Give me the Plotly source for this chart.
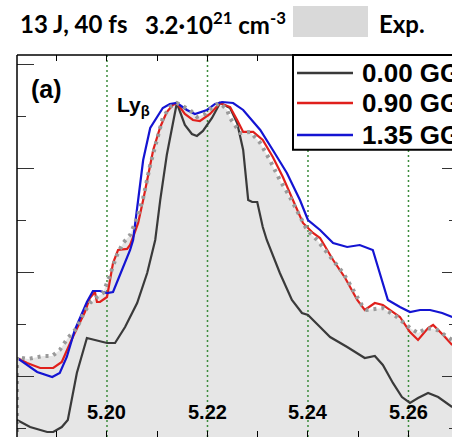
import plotly.graph_objects as go

# ---------------- data ----------------
grid_x = [5.20, 5.22, 5.24, 5.26]
grid_labels = ["5.20", "5.22", "5.24", "5.26"]

black_x = [5.1821, 5.1847, 5.1881, 5.1893, 5.1910, 5.1922, 5.1940, 5.1960, 5.1976, 5.2000,
           5.2016, 5.2036, 5.2060, 5.2080, 5.2096, 5.2106, 5.2119, 5.2129, 5.2139, 5.2155,
           5.2169, 5.2179, 5.2191, 5.2209, 5.2225, 5.2245, 5.2259, 5.2271, 5.2281, 5.2289,
           5.2299, 5.2310, 5.2318, 5.2344, 5.2368, 5.2388, 5.2400, 5.2424, 5.2444, 5.2478,
           5.2513, 5.2533, 5.2549, 5.2569, 5.2587, 5.2603, 5.2619, 5.2639, 5.2659, 5.2687]
black_y = [0.1173, 0.1038, 0.0942, 0.0942, 0.1038, 0.1173, 0.2077, 0.2750, 0.2712, 0.2654,
           0.2654, 0.2962, 0.3423, 0.4000, 0.4635, 0.5404, 0.6269, 0.6808, 0.7269, 0.6846,
           0.6673, 0.6635, 0.6731, 0.6981, 0.7269, 0.7173, 0.6885, 0.6365, 0.5404, 0.5365,
           0.5365, 0.4885, 0.4635, 0.4000, 0.3481, 0.3231, 0.3192, 0.2962, 0.2769, 0.2577,
           0.2365, 0.2404, 0.2231, 0.1885, 0.1615, 0.1500, 0.1596, 0.1692, 0.1615, 0.1423]

red_x = [5.1821, 5.1841, 5.1867, 5.1893, 5.1910, 5.1932, 5.1956, 5.1966, 5.1976, 5.1980,
         5.1986, 5.2000, 5.2012, 5.2022, 5.2040, 5.2046, 5.2052, 5.2062, 5.2072, 5.2082,
         5.2092, 5.2106, 5.2119, 5.2131, 5.2139, 5.2155, 5.2171, 5.2185, 5.2205, 5.2225,
         5.2245, 5.2259, 5.2271, 5.2291, 5.2310, 5.2330, 5.2350, 5.2370, 5.2390, 5.2410,
         5.2424, 5.2450, 5.2474, 5.2498, 5.2513, 5.2533, 5.2549, 5.2583, 5.2603, 5.2619,
         5.2639, 5.2649, 5.2669, 5.2687]
red_y = [0.2365, 0.2269, 0.2173, 0.2173, 0.2288, 0.2769, 0.3250, 0.3519, 0.3635, 0.3442,
         0.3442, 0.3538, 0.4192, 0.4442, 0.4462, 0.4538, 0.4692, 0.4962, 0.5404, 0.5923,
         0.6365, 0.6808, 0.7096, 0.7231, 0.7269, 0.7058, 0.6942, 0.6923, 0.7058, 0.7269,
         0.7192, 0.6942, 0.6712, 0.6712, 0.6558, 0.6231, 0.5846, 0.5404, 0.4962, 0.4769,
         0.4673, 0.4250, 0.3904, 0.3481, 0.3288, 0.3423, 0.3385, 0.3154, 0.2865, 0.2712,
         0.2942, 0.3000, 0.2808, 0.2615]

blue_x = [5.1821, 5.1861, 5.1891, 5.1906, 5.1920, 5.1936, 5.1960, 5.1972, 5.1986, 5.2000,
          5.2012, 5.2032, 5.2046, 5.2052, 5.2060, 5.2072, 5.2086, 5.2100, 5.2111, 5.2125,
          5.2139, 5.2159, 5.2175, 5.2199, 5.2215, 5.2229, 5.2251, 5.2271, 5.2305, 5.2330,
          5.2358, 5.2384, 5.2400, 5.2424, 5.2450, 5.2478, 5.2503, 5.2529, 5.2543, 5.2559,
          5.2583, 5.2603, 5.2623, 5.2643, 5.2667, 5.2687]
blue_y = [0.2365, 0.2096, 0.2000, 0.2077, 0.2385, 0.2904, 0.3442, 0.3654, 0.3654, 0.3615,
          0.3635, 0.4115, 0.4442, 0.4635, 0.5212, 0.6173, 0.6788, 0.7000, 0.7173, 0.7250,
          0.7269, 0.7135, 0.7058, 0.7135, 0.7250, 0.7288, 0.7269, 0.7135, 0.6750, 0.6365,
          0.5923, 0.5404, 0.5019, 0.4827, 0.4577, 0.4500, 0.4538, 0.4442, 0.4000, 0.3481,
          0.3346, 0.3250, 0.3288, 0.3288, 0.3231, 0.3154]

exp_x = [5.1821, 5.1821, 5.1843, 5.1861, 5.1873, 5.1891, 5.1906, 5.1922, 5.1940, 5.1952,
         5.1966, 5.1980, 5.1992, 5.2000, 5.2010, 5.2020, 5.2032, 5.2046, 5.2060, 5.2072,
         5.2086, 5.2100, 5.2111, 5.2125, 5.2139, 5.2165, 5.2179, 5.2195, 5.2213, 5.2225,
         5.2239, 5.2245, 5.2251, 5.2265, 5.2285, 5.2305, 5.2324, 5.2344, 5.2364, 5.2384,
         5.2398, 5.2418, 5.2450, 5.2470, 5.2490, 5.2507, 5.2517, 5.2549, 5.2577, 5.2603,
         5.2619, 5.2637, 5.2657, 5.2677, 5.2687]
exp_y = [0.0788, 0.2385, 0.2346, 0.2385, 0.2404, 0.2404, 0.2519, 0.2750, 0.2942, 0.3192,
         0.3423, 0.3538, 0.3615, 0.3808, 0.4096, 0.4346, 0.4577, 0.4731, 0.5058, 0.5442,
         0.6077, 0.6596, 0.6981, 0.7192, 0.7269, 0.7135, 0.7000, 0.7058, 0.7212, 0.7269,
         0.7135, 0.6981, 0.6885, 0.6692, 0.6712, 0.6500, 0.6173, 0.5788, 0.5462, 0.5077,
         0.4827, 0.4635, 0.4250, 0.4000, 0.3673, 0.3385, 0.3288, 0.3327, 0.3154, 0.2942,
         0.2846, 0.2942, 0.2904, 0.2769, 0.2712]

series_names = ["0.00 GG", "0.90 GG", "1.35 GG"]
series_colors = ["#3a3a3a", "#e0201c", "#1414d2"]

X_RANGE = [5.18209, 5.26866]
Y_RANGE = [0.0846, 0.8192]

# ---------------- figure ----------------
fig = go.Figure()

# experimental fill
fig.add_trace(go.Scatter(x=exp_x, y=exp_y, mode="lines", fill="tozeroy",
                         fillcolor="#e6e6e6", line=dict(width=0, color="rgba(0,0,0,0)"),
                         showlegend=False, hoverinfo="skip"))

# green dotted grid lines
for g in grid_x:
    fig.add_trace(go.Scatter(x=[g, g], y=Y_RANGE, mode="lines",
                             line=dict(color="#3c8c3c", width=1.5, dash="2px,3px"),
                             showlegend=False, hoverinfo="skip"))

for xs, ys, nm, col in zip([black_x, red_x, blue_x], [black_y, red_y, blue_y],
                           series_names, series_colors):
    fig.add_trace(go.Scatter(x=xs, y=ys, mode="lines", name=nm,
                             line=dict(color=col, width=2.2), showlegend=False))

# experimental dotted line
fig.add_trace(go.Scatter(x=exp_x, y=exp_y, mode="lines", name="Exp.",
                         line=dict(color="#9a9a9a", width=4, dash="3px,5px"),
                         showlegend=False))

# axes
fig.update_xaxes(range=X_RANGE, showgrid=False, zeroline=False, showline=False,
                 ticks="inside", ticklen=6, tickwidth=1, tickcolor="black",
                 dtick=0.01, tick0=5.19, mirror="ticks", showticklabels=False)
fig.update_yaxes(range=Y_RANGE, showgrid=False, zeroline=False, showline=False,
                 ticks="inside", ticklen=17, tickwidth=1, tickcolor="#333",
                 dtick=0.2, tick0=0, showticklabels=False,
                 minor=dict(ticks="inside", ticklen=9, dtick=0.1, tick0=0,
                            tickcolor="#333", showgrid=False))
fig.update_layout(
    yaxis2=dict(range=Y_RANGE, overlaying="y", side="right", showgrid=False,
                zeroline=False, showline=False, ticks="inside", ticklen=10,
                tickcolor="#333", dtick=0.2, tick0=0, showticklabels=False,
                minor=dict(ticks="inside", ticklen=3, dtick=0.1, tick0=0,
                           tickcolor="#333", showgrid=False)),
)
# invisible trace to anchor the right axis
fig.add_trace(go.Scatter(x=[X_RANGE[0]], y=[Y_RANGE[0]], yaxis="y2", mode="markers",
                         marker=dict(opacity=0), showlegend=False, hoverinfo="skip"))

# frame (left and top only; right/bottom lie outside the crop)
fig.add_shape(type="line", xref="paper", yref="paper", x0=0, x1=0, y0=0, y1=1,
              line=dict(color="black", width=1.5), layer="above")
fig.add_shape(type="line", xref="paper", yref="paper", x0=0, x1=1.02, y0=1, y1=1,
              line=dict(color="black", width=1.5), layer="above")

# x tick labels inside the plot
for g, lab in zip(grid_x, grid_labels):
    fig.add_annotation(x=g, y=0.0654, xref="x", yref="paper", text=lab, showarrow=False,
                       font=dict(family="Liberation Sans", size=20, color="black", weight="bold"),
                       xanchor="center", yanchor="middle")

# panel label and line label
fig.add_annotation(x=0.0667, y=0.911, xref="paper", yref="paper", text="(a)", showarrow=False,
                   font=dict(family="Liberation Sans", size=25, color="black", weight="bold"),
                   xanchor="center", yanchor="middle")
fig.add_annotation(x=0.2253, y=0.866, xref="paper", yref="paper", text="Ly<sub>β</sub>",
                   showarrow=False,
                   font=dict(family="Liberation Sans", size=21, color="black", weight="bold"),
                   xanchor="left", yanchor="middle")

# legend box (custom)
fig.add_shape(type="rect", xref="paper", yref="paper", x0=0.6345, x1=1.1, y0=0.752, y1=1.0,
              line=dict(color="black", width=2), fillcolor="white", layer="above")
leg_y = [0.9529, 0.8743, 0.7906]
for nm, col, yy in zip(series_names, series_colors, leg_y):
    fig.add_shape(type="line", xref="paper", yref="paper", x0=0.6437, x1=0.7724, y0=yy, y1=yy,
                  line=dict(color=col, width=2.5), layer="above")
    fig.add_annotation(x=0.7885, y=yy, xref="paper", yref="paper", text=nm, showarrow=False,
                       font=dict(family="Liberation Sans", size=26, color="black", weight="bold"),
                       xanchor="left", yanchor="middle")

# header line
title_font = dict(family="Lato", size=24, color="black", weight="bold")
fig.add_annotation(x=0.0023, y=1.0825, xref="paper", yref="paper", text="13 J, 40 fs",
                   showarrow=False, font=title_font, xanchor="left", yanchor="middle")
fig.add_annotation(x=0.2897, y=1.0825, xref="paper", yref="paper",
                   text="3.2·10<sup>21</sup> cm<sup>-3</sup>",
                   showarrow=False, font=title_font, xanchor="left", yanchor="middle")
fig.add_shape(type="rect", xref="paper", yref="paper", x0=0.6345, x1=0.8069, y0=1.0471, y1=1.1283,
              line=dict(width=0), fillcolor="#d9d9d9")
fig.add_annotation(x=0.8276, y=1.0825, xref="paper", yref="paper", text="Exp.",
                   showarrow=False, font=title_font, xanchor="left", yanchor="middle")

fig.update_layout(width=452, height=437, margin=dict(l=17, r=0, t=55, b=0, autoexpand=False),
                  paper_bgcolor="white", plot_bgcolor="white", showlegend=False)

fig.write_html("out.html", config={"displayModeBar": False},
               post_script="document.body.style.margin='0';document.body.style.padding='0';"
                           "document.documentElement.style.overflow='hidden';")
